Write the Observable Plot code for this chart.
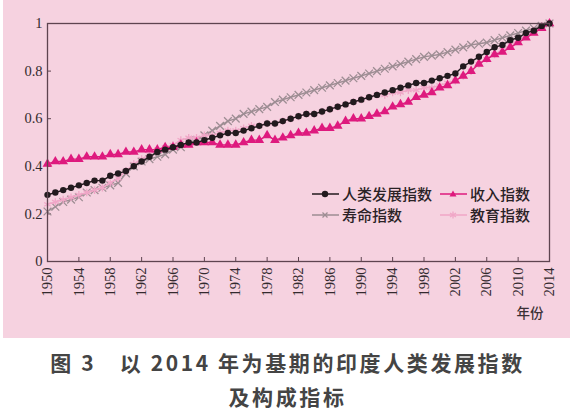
<!DOCTYPE html>
<html><head><meta charset="utf-8">
<script src="https://cdn.jsdelivr.net/npm/d3@7"></script>
<script src="https://cdn.jsdelivr.net/npm/@observablehq/plot@0.6"></script>
<style>
html,body{margin:0;padding:0;background:#fff;}
body{width:575px;height:411px;overflow:hidden;position:relative;font-family:"Noto Sans CJK SC",sans-serif;}
#panel{position:absolute;left:3px;top:0;width:567px;height:338px;background:#f6d2e0;}
#panel svg{display:block;}
.leg{position:absolute;display:flex;align-items:center;font-size:15px;font-weight:500;color:#2a2226;white-space:nowrap;height:20px;line-height:20px;}
.leg svg{margin-right:2px;}
.cap{position:absolute;left:0;width:575px;text-align:center;font-size:21px;font-weight:700;color:#444;letter-spacing:2.6px;}
</style>
</head><body>
<div id="panel"></div>
<div class="cap" style="top:347px">图 3　以 2014 年为基期的印度人类发展指数</div>
<div class="cap" style="top:381px">及构成指标</div>
<script>
const years = d3.range(1950, 2015);
const xTicks = d3.range(1950, 2015, 4);
const yTicks = [0, 0.2, 0.4, 0.6, 0.8, 1];
const seriesNames = ["人类发展指数", "收入指数", "寿命指数", "教育指数"];

const hdi = [0.28,0.29,0.30,0.31,0.32,0.33,0.34,0.34,0.36,0.37,
  0.38,0.40,0.42,0.44,0.46,0.47,0.48,0.49,0.50,0.50,
  0.51,0.52,0.53,0.54,0.54,0.55,0.56,0.57,0.58,0.58,
  0.59,0.60,0.61,0.62,0.62,0.63,0.64,0.65,0.66,0.67,
  0.68,0.69,0.70,0.71,0.72,0.73,0.74,0.75,0.75,0.76,
  0.77,0.78,0.79,0.82,0.84,0.86,0.88,0.90,0.91,0.93,
  0.94,0.96,0.97,0.99,1.00];
const income = [0.41,0.42,0.42,0.43,0.43,0.44,0.44,0.44,0.45,0.45,
  0.46,0.46,0.47,0.47,0.47,0.48,0.48,0.49,0.49,0.50,
  0.50,0.50,0.49,0.49,0.49,0.50,0.51,0.51,0.53,0.51,
  0.52,0.53,0.54,0.54,0.55,0.56,0.56,0.57,0.59,0.60,
  0.60,0.61,0.62,0.63,0.65,0.66,0.67,0.69,0.70,0.71,
  0.73,0.74,0.76,0.78,0.80,0.83,0.85,0.87,0.88,0.90,
  0.92,0.94,0.96,0.98,1.00];
const life = [0.21,0.23,0.25,0.26,0.27,0.29,0.30,0.31,0.32,0.33,
  0.37,0.40,0.42,0.43,0.44,0.45,0.47,0.48,0.50,0.51,
  0.53,0.55,0.57,0.59,0.60,0.62,0.63,0.64,0.65,0.67,
  0.68,0.69,0.70,0.71,0.72,0.73,0.74,0.75,0.76,0.77,
  0.78,0.79,0.80,0.81,0.82,0.83,0.84,0.85,0.86,0.865,
  0.87,0.88,0.89,0.90,0.91,0.915,0.92,0.93,0.94,0.95,
  0.96,0.97,0.98,0.99,1.00];
const edu = [0.24,0.25,0.26,0.27,0.28,0.29,0.30,0.31,0.33,0.35,
  0.38,0.41,0.43,0.45,0.47,0.48,0.49,0.51,0.52,0.52,
  0.53,0.53,0.54,0.55,0.55,0.56,0.57,0.57,0.58,0.58,
  0.59,0.60,0.61,0.62,0.62,0.63,0.64,0.65,0.66,0.67,
  0.68,0.69,0.70,0.70,0.71,0.71,0.72,0.72,0.73,0.73,
  0.74,0.75,0.76,0.78,0.80,0.83,0.85,0.87,0.89,0.91,
  0.93,0.95,0.97,0.99,1.00];

const colors = {"人类发展指数":"#221a1e","收入指数":"#de1a7e","寿命指数":"#9d8d93","教育指数":"#f0a6c7"};
const symbols = {"人类发展指数":"circle","收入指数":"triangle","寿命指数":"times","教育指数":"asterisk"};
const filled = {"人类发展指数":true,"收入指数":true,"寿命指数":false,"教育指数":false};
const valuesBy = {"人类发展指数":hdi,"收入指数":income,"寿命指数":life,"教育指数":edu};

const rows = [];
for (const name of seriesNames) years.forEach((yr, i) => rows.push({name, year: yr, value: valuesBy[name][i]}));

const drawOrder = ["寿命指数", "教育指数", "收入指数", "人类发展指数"];
const marks = [];
for (const name of drawOrder) {
  const d = rows.filter(r => r.name === name);
  marks.push(Plot.line(d, {x: "year", y: "value", stroke: colors[name], strokeWidth: 1.4}));
  marks.push(Plot.dot(d, filled[name]
    ? {x: "year", y: "value", symbol: () => symbols[name], fill: colors[name], r: name === "收入指数" ? 3.6 : 3.2, stroke: "none"}
    : {x: "year", y: "value", symbol: () => symbols[name], stroke: colors[name], r: 3.6, strokeWidth: 1.3, fill: "none"}));
}

const serif = "'Liberation Serif', 'DejaVu Serif', serif";
const chart = Plot.plot({
  width: 567, height: 338,
  marginLeft: 44, marginRight: 21, marginTop: 23, marginBottom: 77,
  style: {background: "transparent", fontFamily: serif, fontSize: "14.5px", color: "#333"},
  x: {domain: [1950, 2014]},
  y: {domain: [0, 1]},
  symbol: {type: "identity"},
  marks: [
    Plot.axisX({ticks: xTicks, tickFormat: d => String(d), tickRotate: -90, tickSize: -4, tickPadding: 10, label: null, stroke: "#5e4450", fontFamily: serif, fontSize: 14.5, fill: "#332a2e"}),
    Plot.axisY({ticks: yTicks, tickFormat: d => String(d), tickSize: -4, tickPadding: 9, label: null, stroke: "#5e4450", fontFamily: serif, fontSize: 14.5, fill: "#332a2e"}),
    ...marks,
    Plot.frame({stroke: "#5e4450", strokeWidth: 1.3}),
    Plot.text(["年份"], {frameAnchor: "bottom-right", dx: -6, dy: 56, textAnchor: "end", fontFamily: "'Noto Sans CJK SC', sans-serif", fontSize: 13.5, fontWeight: 500, fill: "#3a3035"})
  ]
});
document.getElementById("panel").appendChild(chart);

// legend
const legendPos = {"人类发展指数":[311,184],"收入指数":[439,184],"寿命指数":[311,205],"教育指数":[439,205]};
function symbolPath(name) {
  const c = colors[name];
  if (name === "人类发展指数") return `<circle cx="14" cy="6" r="3.2" fill="${c}"/>`;
  if (name === "收入指数") return `<path d="M14,2.5L17.5,8.5L10.5,8.5Z" fill="${c}"/>`;
  if (name === "寿命指数") return `<path d="M11.5,3.5L16.5,8.5M16.5,3.5L11.5,8.5" stroke="${c}" stroke-width="1.3"/>`;
  return `<path d="M14,2.5V9.5M11,4L17,8M17,4L11,8" stroke="${c}" stroke-width="1.3"/>`;
}
for (const name of seriesNames) {
  const div = document.createElement("div");
  div.className = "leg";
  div.style.left = legendPos[name][0] + "px";
  div.style.top = legendPos[name][1] + "px";
  div.innerHTML = `<svg width="29" height="12"><line x1="1" y1="6" x2="28" y2="6" stroke="${colors[name]}" stroke-width="1.5"/>${symbolPath(name)}</svg><span>${name}</span>`;
  document.body.appendChild(div);
}
</script>
</body></html>
